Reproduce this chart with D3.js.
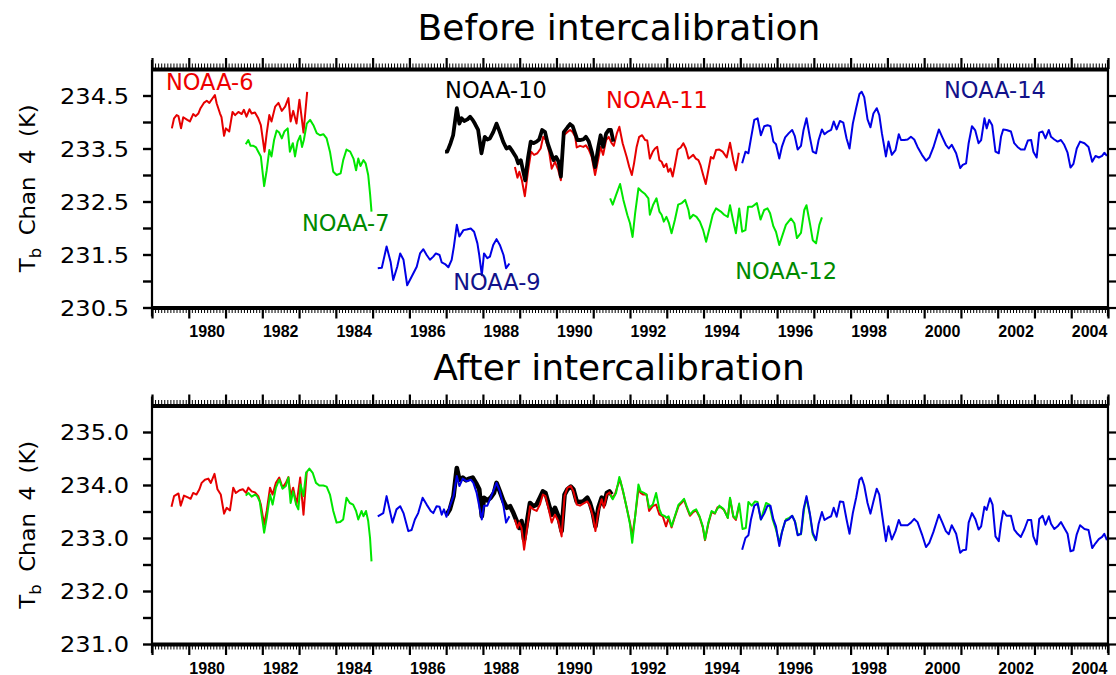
<!DOCTYPE html>
<html><head><meta charset="utf-8">
<script src="https://cdn.jsdelivr.net/npm/d3@7"></script>
<style>body{margin:0;background:#fff}svg{display:block}</style>
</head><body>
<svg id="chart" width="1116" height="675"></svg>
<script>
// ---------- data ----------
const panelTitles = ["Before intercalibration", "After intercalibration"];
const yAxisTitle = ["T", "b", " Chan 4 (K)"];
const yearTicks = d3.range(1979, 2006);
const yearLabels = [1980,1982,1984,1986,1988,1990,1992,1994,1996,1998,2000,2002,2004];
const topYTicks = [230.5,231.0,231.5,232.0,232.5,233.0,233.5,234.0,234.5];
const topYLabels = ["230.5","231.5","232.5","233.5","234.5"];
const botYTicks = [231.0,231.5,232.0,232.5,233.0,233.5,234.0,234.5,235.0];
const botYLabels = ["231.0","232.0","233.0","234.0","235.0"];
const satNames = ["NOAA-6","NOAA-7","NOAA-9","NOAA-10","NOAA-11","NOAA-12","NOAA-14"];
// label anchors in data units [year, K] (top panel)
const satLabelAnchors = [[1979.38,234.60],[1983.08,231.94],[1987.19,230.83],[1986.97,234.45],[1991.35,234.26],[1994.86,231.04],[2000.54,234.45]];

// Before intercalibration  [decimal year, Tb (K)]
const noaa6Before = [[1979.54,233.88],[1979.60,234.07],[1979.67,234.13],[1979.72,234.11],[1979.79,233.88],[1979.85,234.09],[1979.96,234.04],[1980.03,234.01],[1980.12,234.15],[1980.19,234.11],[1980.26,234.16],[1980.32,234.26],[1980.41,234.36],[1980.49,234.40],[1980.56,234.36],[1980.62,234.42],[1980.71,234.51],[1980.76,234.35],[1980.85,234.16],[1980.89,234.09],[1980.96,233.74],[1981.01,233.88],[1981.10,233.82],[1981.19,234.19],[1981.26,234.13],[1981.35,234.19],[1981.44,234.15],[1981.50,234.23],[1981.57,234.10],[1981.65,234.24],[1981.71,234.16],[1981.80,234.18],[1981.89,234.07],[1981.96,233.94],[1982.06,233.44],[1982.12,233.79],[1982.19,234.13],[1982.25,234.01],[1982.35,234.29],[1982.44,234.36],[1982.53,234.21],[1982.62,234.29],[1982.71,234.45],[1982.77,234.01],[1982.84,234.21],[1982.93,233.97],[1983.01,234.42],[1983.12,233.80],[1983.22,234.57]];
const noaa7Before = [[1981.55,233.58],[1981.62,233.66],[1981.68,233.55],[1981.76,233.55],[1981.83,233.52],[1981.89,233.44],[1981.96,233.35],[1982.05,232.79],[1982.12,233.09],[1982.19,233.47],[1982.25,233.35],[1982.32,233.66],[1982.39,233.84],[1982.46,233.80],[1982.53,233.69],[1982.60,233.82],[1982.69,233.88],[1982.75,233.44],[1982.83,233.60],[1982.89,233.35],[1982.96,233.63],[1983.03,233.74],[1983.08,233.53],[1983.13,233.66],[1983.21,233.97],[1983.30,234.04],[1983.39,233.94],[1983.48,233.79],[1983.57,233.75],[1983.66,233.77],[1983.75,233.69],[1983.84,233.44],[1983.93,233.06],[1984.02,233.00],[1984.13,233.03],[1984.20,233.28],[1984.29,233.48],[1984.39,233.44],[1984.48,233.31],[1984.55,233.09],[1984.61,233.31],[1984.67,233.17],[1984.75,233.28],[1984.81,233.22],[1984.88,233.00],[1984.93,232.65],[1984.97,232.31]];
const noaa9Before = [[1985.14,231.24],[1985.25,231.25],[1985.38,231.65],[1985.49,231.36],[1985.56,231.02],[1985.67,231.27],[1985.75,231.52],[1985.84,231.40],[1985.94,230.92],[1986.06,231.08],[1986.20,231.27],[1986.29,231.52],[1986.38,231.60],[1986.47,231.49],[1986.56,231.40],[1986.65,231.46],[1986.72,231.52],[1986.82,231.49],[1986.88,231.35],[1986.97,231.32],[1987.06,231.26],[1987.15,231.40],[1987.21,231.65],[1987.29,232.06],[1987.36,231.84],[1987.47,231.96],[1987.56,231.97],[1987.67,231.99],[1987.76,231.93],[1987.85,231.71],[1987.90,231.49],[1987.97,231.11],[1988.03,231.52],[1988.12,231.43],[1988.19,231.46],[1988.28,231.68],[1988.37,231.79],[1988.46,231.68],[1988.56,231.49],[1988.63,231.24],[1988.72,231.33]];
const noaa10Before = [[1986.97,233.44],[1987.03,233.44],[1987.12,233.60],[1987.19,233.75],[1987.29,234.26],[1987.36,233.97],[1987.42,234.07],[1987.49,234.02],[1987.58,234.05],[1987.65,234.10],[1987.72,234.04],[1987.78,233.97],[1987.87,233.85],[1987.96,233.41],[1988.05,233.72],[1988.12,233.67],[1988.19,233.69],[1988.28,233.81],[1988.37,233.97],[1988.46,233.81],[1988.55,233.63],[1988.64,233.50],[1988.72,233.53],[1988.81,233.44],[1988.90,233.34],[1988.96,233.22],[1989.03,233.28],[1989.08,233.12],[1989.15,232.90],[1989.23,233.34],[1989.30,233.63],[1989.37,233.60],[1989.46,233.63],[1989.53,233.67],[1989.61,233.85],[1989.69,233.81],[1989.76,233.60],[1989.84,233.44],[1989.92,233.28],[1989.99,233.34],[1990.06,233.25],[1990.12,232.97],[1990.20,233.81],[1990.30,233.90],[1990.37,233.96],[1990.44,233.92],[1990.51,233.78],[1990.57,233.66],[1990.64,233.66],[1990.73,233.67],[1990.80,233.72],[1990.88,233.63],[1990.96,233.44],[1991.05,233.15],[1991.14,233.53],[1991.20,233.75],[1991.27,233.53],[1991.35,233.78],[1991.42,233.85],[1991.48,233.85],[1991.55,233.63]];
const noaa11Before = [[1988.87,233.15],[1988.94,232.95],[1988.99,233.06],[1989.06,232.90],[1989.14,232.60],[1989.23,233.09],[1989.31,233.44],[1989.39,233.38],[1989.48,233.41],[1989.57,233.50],[1989.64,233.72],[1989.71,233.66],[1989.80,233.44],[1989.87,233.12],[1989.96,233.25],[1990.05,233.09],[1990.12,232.90],[1990.20,233.75],[1990.30,233.81],[1990.37,233.85],[1990.44,233.81],[1990.51,233.72],[1990.55,233.52],[1990.64,233.55],[1990.73,233.53],[1990.80,233.56],[1990.88,233.48],[1990.96,233.34],[1991.05,233.00],[1991.14,233.31],[1991.20,233.53],[1991.27,233.38],[1991.35,233.66],[1991.42,233.72],[1991.50,233.60],[1991.56,233.55],[1991.64,233.78],[1991.71,233.91],[1991.80,233.60],[1991.91,233.34],[1991.98,233.15],[1992.05,233.00],[1992.11,233.22],[1992.18,233.53],[1992.25,233.72],[1992.33,233.75],[1992.41,233.66],[1992.47,233.65],[1992.54,233.31],[1992.62,233.44],[1992.68,233.50],[1992.74,233.53],[1992.80,233.28],[1992.86,233.25],[1992.92,233.15],[1992.99,233.21],[1993.04,233.06],[1993.10,233.12],[1993.16,232.97],[1993.22,233.18],[1993.30,233.48],[1993.38,233.52],[1993.45,233.60],[1993.52,233.50],[1993.59,233.31],[1993.65,233.34],[1993.72,233.38],[1993.79,233.31],[1993.86,233.28],[1993.92,233.18],[1993.99,233.00],[1994.06,232.83],[1994.13,233.09],[1994.20,233.34],[1994.27,233.31],[1994.34,233.47],[1994.43,233.48],[1994.52,233.44],[1994.63,233.33],[1994.72,233.61],[1994.81,233.28],[1994.88,233.09],[1994.96,233.42]];
const noaa12Before = [[1991.46,232.56],[1991.53,232.44],[1991.62,232.62],[1991.73,232.83],[1991.82,232.53],[1991.93,232.24],[1992.00,232.09],[1992.07,231.83],[1992.14,232.28],[1992.23,232.75],[1992.32,232.69],[1992.41,232.64],[1992.50,232.56],[1992.54,232.25],[1992.63,232.44],[1992.72,232.56],[1992.80,232.31],[1992.86,232.25],[1992.92,232.12],[1992.99,232.21],[1993.06,232.09],[1993.13,231.90],[1993.22,232.15],[1993.31,232.44],[1993.41,232.47],[1993.50,232.53],[1993.59,232.34],[1993.63,232.18],[1993.72,232.25],[1993.81,232.21],[1993.90,232.12],[1993.99,231.96],[1994.07,231.74],[1994.16,231.99],[1994.25,232.25],[1994.34,232.37],[1994.47,232.31],[1994.56,232.25],[1994.66,232.21],[1994.72,232.43],[1994.81,232.12],[1994.88,231.90],[1994.97,232.37],[1995.05,231.93],[1995.14,231.96],[1995.21,232.40],[1995.32,232.40],[1995.45,232.47],[1995.55,232.16],[1995.65,232.34],[1995.74,232.37],[1995.81,232.28],[1995.90,232.03],[1995.97,231.93],[1996.06,231.68],[1996.15,231.87],[1996.24,232.06],[1996.38,232.18],[1996.47,232.09],[1996.54,231.81],[1996.65,231.91],[1996.74,232.34],[1996.80,232.43],[1996.90,232.06],[1996.97,231.77],[1997.06,231.71],[1997.15,232.06],[1997.22,232.20]];
const noaa14Before = [[1995.05,233.22],[1995.14,233.44],[1995.22,233.41],[1995.29,233.69],[1995.38,234.04],[1995.47,234.07],[1995.56,233.75],[1995.65,233.92],[1995.74,233.94],[1995.82,233.92],[1995.90,233.63],[1995.97,233.58],[1996.06,233.31],[1996.13,233.53],[1996.22,233.71],[1996.32,233.79],[1996.41,233.85],[1996.48,233.74],[1996.56,233.48],[1996.65,233.55],[1996.72,233.85],[1996.80,234.07],[1996.89,233.72],[1996.97,233.44],[1997.06,233.41],[1997.13,233.66],[1997.22,233.86],[1997.29,233.77],[1997.38,233.82],[1997.47,233.85],[1997.54,234.01],[1997.62,233.86],[1997.71,234.02],[1997.80,233.99],[1997.89,233.69],[1997.97,233.50],[1998.06,233.97],[1998.15,234.26],[1998.24,234.53],[1998.30,234.57],[1998.37,234.47],[1998.46,234.05],[1998.54,233.90],[1998.62,234.16],[1998.71,234.26],[1998.78,234.13],[1998.85,233.79],[1998.96,233.35],[1999.03,233.63],[1999.12,233.38],[1999.22,233.47],[1999.31,233.77],[1999.37,233.66],[1999.46,233.66],[1999.55,233.67],[1999.64,233.72],[1999.73,233.67],[1999.82,233.53],[1999.94,233.38],[2000.05,233.27],[2000.14,233.33],[2000.25,233.52],[2000.40,233.86],[2000.49,233.72],[2000.59,233.57],[2000.67,233.50],[2000.75,233.57],[2000.87,233.41],[2000.98,233.13],[2001.05,233.19],[2001.14,233.22],[2001.21,233.60],[2001.30,233.92],[2001.39,233.84],[2001.48,233.60],[2001.55,233.66],[2001.64,234.07],[2001.70,233.88],[2001.77,234.04],[2001.85,233.94],[2001.94,233.44],[2002.03,233.41],[2002.09,233.72],[2002.15,233.86],[2002.24,233.85],[2002.36,233.82],[2002.45,233.60],[2002.54,233.53],[2002.63,233.48],[2002.73,233.48],[2002.82,233.65],[2002.91,233.66],[2002.97,233.44],[2003.06,233.33],[2003.13,233.80],[2003.22,233.82],[2003.30,233.69],[2003.39,233.85],[2003.45,233.72],[2003.54,233.67],[2003.63,233.63],[2003.72,233.66],[2003.81,233.57],[2003.90,233.42],[2003.98,233.14],[2004.06,233.21],[2004.15,233.50],[2004.24,233.63],[2004.36,233.60],[2004.47,233.53],[2004.57,233.25],[2004.66,233.36],[2004.75,233.33],[2004.84,233.36],[2004.90,233.42],[2004.97,233.36]];

// After intercalibration
const noaa6After = [[1979.53,233.59],[1979.60,233.79],[1979.72,233.84],[1979.78,233.61],[1979.87,233.80],[1979.99,233.76],[1980.05,233.74],[1980.12,233.85],[1980.21,233.82],[1980.29,233.92],[1980.35,234.04],[1980.44,234.10],[1980.53,234.12],[1980.60,234.04],[1980.70,234.21],[1980.78,233.92],[1980.87,233.82],[1980.96,233.46],[1981.03,233.57],[1981.12,233.52],[1981.21,233.95],[1981.28,233.85],[1981.38,233.90],[1981.47,233.92],[1981.56,233.85],[1981.62,233.95],[1981.71,233.88],[1981.80,233.86],[1981.89,233.79],[1981.96,233.63],[1982.05,233.25],[1982.12,233.51],[1982.21,233.95],[1982.28,233.82],[1982.37,234.04],[1982.46,234.14],[1982.55,233.95],[1982.64,234.04],[1982.71,234.15],[1982.77,233.79],[1982.84,233.95],[1982.93,233.63],[1983.03,234.14],[1983.12,233.44],[1983.21,234.26]];
const noaa7After = [[1981.55,233.80],[1981.62,233.85],[1981.71,233.78],[1981.80,233.82],[1981.86,233.79],[1981.93,233.69],[1982.05,233.10],[1982.12,233.38],[1982.21,233.82],[1982.28,233.63],[1982.37,233.95],[1982.46,234.10],[1982.55,233.93],[1982.64,233.98],[1982.71,234.14],[1982.77,233.66],[1982.84,233.88],[1982.92,233.63],[1982.98,233.54],[1983.04,234.01],[1983.12,233.79],[1983.19,234.23],[1983.28,234.31],[1983.37,234.23],[1983.46,234.04],[1983.55,233.99],[1983.66,233.99],[1983.75,233.97],[1983.84,233.82],[1983.93,233.51],[1984.02,233.29],[1984.11,233.30],[1984.20,233.35],[1984.29,233.76],[1984.38,233.66],[1984.47,233.63],[1984.55,233.51],[1984.61,233.35],[1984.70,233.51],[1984.75,233.41],[1984.82,233.51],[1984.88,233.32],[1984.93,233.00],[1984.97,232.56]];
const noaa9After = [[1985.14,233.41],[1985.29,233.47],[1985.38,233.79],[1985.54,233.29],[1985.65,233.54],[1985.75,233.60],[1985.84,233.47],[1985.97,233.13],[1986.06,233.15],[1986.15,233.35],[1986.24,233.47],[1986.36,233.76],[1986.47,233.63],[1986.58,233.51],[1986.65,233.47],[1986.74,233.60],[1986.82,233.59],[1986.88,233.44],[1986.94,233.54],[1987.01,233.40],[1987.10,233.60],[1987.20,233.79],[1987.29,234.17],[1987.36,233.98],[1987.45,234.12],[1987.56,234.07],[1987.67,234.10],[1987.74,234.04],[1987.83,233.85],[1987.97,233.35],[1988.03,233.61],[1988.12,233.61],[1988.21,233.76],[1988.37,234.04],[1988.46,233.88],[1988.56,233.60],[1988.63,233.29],[1988.72,233.41]];
const noaa10After = [[1987.01,233.44],[1987.10,233.54],[1987.20,233.79],[1987.29,234.32],[1987.36,234.10],[1987.45,234.14],[1987.54,234.09],[1987.63,234.12],[1987.72,234.14],[1987.81,234.04],[1987.90,233.92],[1987.97,233.41],[1988.03,233.76],[1988.12,233.71],[1988.21,233.76],[1988.30,233.85],[1988.37,234.04],[1988.46,233.88],[1988.56,233.69],[1988.65,233.57],[1988.74,233.60],[1988.83,233.47],[1988.92,233.32],[1988.99,233.19],[1989.05,233.32],[1989.12,232.97],[1989.21,233.35],[1989.28,233.66],[1989.37,233.60],[1989.46,233.63],[1989.55,233.76],[1989.63,233.88],[1989.70,233.85],[1989.78,233.66],[1989.87,233.44],[1989.96,233.57],[1990.05,233.41],[1990.14,233.13],[1990.22,233.82],[1990.30,233.92],[1990.39,233.97],[1990.46,233.92],[1990.55,233.69],[1990.64,233.68],[1990.73,233.69],[1990.84,233.76],[1990.91,233.66],[1990.99,233.47],[1991.06,233.22],[1991.14,233.57],[1991.23,233.76],[1991.29,233.63],[1991.37,233.85],[1991.44,233.88],[1991.50,233.82]];
const noaa11After = [[1988.87,233.35],[1988.94,233.19],[1988.99,233.29],[1989.05,233.19],[1989.12,232.78],[1989.21,233.23],[1989.28,233.60],[1989.37,233.54],[1989.46,233.51],[1989.55,233.63],[1989.63,233.82],[1989.70,233.79],[1989.78,233.57],[1989.87,233.29],[1989.96,233.44],[1990.05,233.32],[1990.14,233.03],[1990.22,233.79],[1990.30,233.95],[1990.39,233.98],[1990.46,233.88],[1990.55,233.63],[1990.64,233.61],[1990.73,233.65],[1990.84,233.69],[1990.91,233.61],[1990.99,233.41],[1991.06,233.13],[1991.14,233.51],[1991.23,233.73],[1991.29,233.57],[1991.37,233.82],[1991.44,233.86],[1991.51,233.76],[1991.59,233.82],[1991.66,233.98],[1991.73,234.10],[1991.82,233.85],[1991.91,233.57],[1992.00,233.29],[1992.06,233.03],[1992.14,233.41],[1992.23,233.92],[1992.29,233.85],[1992.36,233.82],[1992.45,233.82],[1992.52,233.51],[1992.62,233.60],[1992.71,233.63],[1992.80,233.44],[1992.89,233.41],[1992.98,233.22],[1993.05,233.38],[1993.13,233.20],[1993.22,233.40],[1993.32,233.60],[1993.41,233.67],[1993.47,233.72],[1993.54,233.58],[1993.63,233.42],[1993.72,233.49],[1993.80,233.52],[1993.89,233.40],[1993.98,233.20],[1994.04,232.96],[1994.13,233.27],[1994.22,233.49],[1994.31,233.46],[1994.38,233.58],[1994.47,233.58],[1994.56,233.53],[1994.66,233.38],[1994.72,233.74],[1994.81,233.40],[1994.88,233.34],[1994.97,233.62]];
const noaa12After = [[1991.46,233.82],[1991.53,233.73],[1991.62,233.85],[1991.71,234.15],[1991.80,233.92],[1991.91,233.57],[1992.00,233.26],[1992.06,232.91],[1992.14,233.41],[1992.23,234.01],[1992.29,233.88],[1992.38,233.85],[1992.45,233.82],[1992.52,233.57],[1992.62,233.63],[1992.71,233.85],[1992.80,233.54],[1992.86,233.44],[1992.95,233.41],[1992.99,233.38],[1993.05,233.41],[1993.13,233.22],[1993.22,233.41],[1993.32,233.63],[1993.41,233.69],[1993.47,233.74],[1993.54,233.60],[1993.63,233.44],[1993.72,233.51],[1993.80,233.54],[1993.89,233.41],[1993.98,233.22],[1994.04,232.97],[1994.13,233.29],[1994.22,233.51],[1994.31,233.47],[1994.34,233.51],[1994.43,233.61],[1994.54,233.55],[1994.66,233.38],[1994.72,233.76],[1994.81,233.41],[1994.88,233.36],[1994.97,233.65],[1995.06,233.17],[1995.15,233.19],[1995.22,233.68],[1995.31,233.61],[1995.40,233.69],[1995.47,233.68],[1995.56,233.35],[1995.70,233.66],[1995.79,233.63],[1995.88,233.35],[1995.97,233.16],[1996.06,232.91],[1996.15,233.16],[1996.24,233.35],[1996.33,233.38],[1996.41,233.42],[1996.50,233.29],[1996.56,233.07],[1996.65,233.07],[1996.74,233.57],[1996.80,233.76],[1996.90,233.41],[1996.97,233.07],[1997.06,232.94]];
const noaa14After = [[1995.05,232.78],[1995.14,233.00],[1995.22,233.05],[1995.29,233.35],[1995.38,233.61],[1995.47,233.65],[1995.56,233.35],[1995.65,233.46],[1995.74,233.61],[1995.82,233.61],[1995.90,233.35],[1995.97,233.22],[1996.06,232.85],[1996.13,233.10],[1996.22,233.32],[1996.32,233.35],[1996.41,233.42],[1996.48,233.32],[1996.56,233.05],[1996.65,233.08],[1996.72,233.54],[1996.80,233.79],[1996.89,233.47],[1996.97,233.10],[1997.06,232.96],[1997.13,233.27],[1997.22,233.49],[1997.29,233.34],[1997.38,233.38],[1997.47,233.41],[1997.54,233.57],[1997.62,233.40],[1997.71,233.69],[1997.80,233.68],[1997.89,233.35],[1997.97,233.08],[1998.06,233.47],[1998.15,233.76],[1998.24,234.10],[1998.30,234.14],[1998.37,233.99],[1998.46,233.66],[1998.54,233.46],[1998.62,233.69],[1998.71,233.93],[1998.78,233.82],[1998.85,233.47],[1998.96,232.94],[1999.03,233.22],[1999.12,232.97],[1999.22,233.13],[1999.31,233.34],[1999.37,233.24],[1999.46,233.24],[1999.55,233.24],[1999.64,233.29],[1999.73,233.36],[1999.82,233.30],[1999.94,233.07],[2000.05,232.83],[2000.14,232.91],[2000.25,233.11],[2000.40,233.44],[2000.49,233.30],[2000.59,233.13],[2000.67,233.07],[2000.75,233.24],[2000.87,233.08],[2000.98,232.72],[2001.05,232.77],[2001.14,232.78],[2001.21,233.29],[2001.30,233.47],[2001.39,233.36],[2001.48,233.16],[2001.55,233.22],[2001.64,233.59],[2001.70,233.53],[2001.79,233.75],[2001.86,233.63],[2001.94,233.03],[2002.03,232.94],[2002.09,233.27],[2002.15,233.51],[2002.24,233.42],[2002.36,233.42],[2002.45,233.16],[2002.54,233.08],[2002.63,233.02],[2002.73,233.17],[2002.82,233.34],[2002.91,233.34],[2002.97,233.03],[2003.06,232.88],[2003.13,233.36],[2003.22,233.42],[2003.30,233.25],[2003.39,233.41],[2003.45,233.27],[2003.54,233.17],[2003.63,233.22],[2003.72,233.30],[2003.81,233.19],[2003.90,233.08],[2003.98,232.75],[2004.06,232.77],[2004.15,233.07],[2004.24,233.24],[2004.36,233.17],[2004.47,233.15],[2004.57,232.81],[2004.66,232.90],[2004.75,232.98],[2004.84,233.02],[2004.90,233.08],[2004.97,232.96]];

// ---------- styles ----------
const C = {red:"#e60000", green:"#00e600", blue:"#0000e6", black:"#000000",
           labRed:"#ee0000", labGreen:"#008a00", labBlue:"#12128a", labBlack:"#000000"};

const svg = d3.select("#chart");
const x = d3.scaleLinear().domain([1979, 2005]).range([152, 1108]);
const monthTicks = d3.range(0, 26*12 + 1).map(i => 1979 + i/12);

const panels = [
  { y: d3.scaleLinear().domain([230.5, 235.0]).range([307.5, 69]),
    title: panelTitles[0], titleY: 40, ticks: topYTicks, labels: topYLabels,
    series: [
      {d: noaa6Before, c: C.red, w: 2},
      {d: noaa7Before, c: C.green, w: 2},
      {d: noaa9Before, c: C.blue, w: 2},
      {d: noaa11Before, c: C.red, w: 2},
      {d: noaa10Before, c: C.black, w: 3.8},
      {d: noaa12Before, c: C.green, w: 2},
      {d: noaa14Before, c: C.blue, w: 2}
    ]},
  { y: d3.scaleLinear().domain([231.0, 235.5]).range([644, 405.5]),
    title: panelTitles[1], titleY: 380, ticks: botYTicks, labels: botYLabels,
    series: [
      {d: noaa10After, c: C.black, w: 4.6},
      {d: noaa6After, c: C.red, w: 2},
      {d: noaa7After, c: C.green, w: 2},
      {d: noaa9After, c: C.blue, w: 2},
      {d: noaa11After, c: C.red, w: 2},
      {d: noaa12After, c: C.green, w: 2},
      {d: noaa14After, c: C.blue, w: 2}
    ]}
];

function styleAxis(g, w) {
  g.selectAll("line").attr("stroke", "#000").attr("stroke-width", w);
}

panels.forEach(p => {
  const y = p.y;
  const [yb, yt] = y.range();
  const g = svg.append("g");

  // title
  g.append("text").attr("x", 619).attr("y", p.titleY)
    .attr("text-anchor", "middle").attr("font-family", "DejaVu Sans")
    .attr("font-size", 36).attr("fill", "#000").text(p.title);

  // series
  const line = d3.line().x(d => x(d[0])).y(d => y(d[1]));
  p.series.forEach(s => {
    g.append("path").datum(s.d).attr("d", line).attr("fill", "none")
      .attr("stroke", s.c).attr("stroke-width", s.w)
      .attr("stroke-linejoin", "round").attr("stroke-linecap", "butt");
  });

  // left / right vertical frame lines (extended like the original)
  [x.range()[0], x.range()[1]].forEach(xx => {
    g.append("line").attr("x1", xx).attr("x2", xx).attr("y1", yt - 9).attr("y2", yb + 9)
      .attr("stroke", "#000").attr("stroke-width", 2.2);
  });

  // left axis
  const left = g.append("g").attr("transform", `translate(${x.range()[0]},0)`)
    .call(d3.axisLeft(y).tickValues(p.ticks).tickSize(9).tickSizeOuter(0).tickPadding(14)
      .tickFormat(v => { const s = v.toFixed(1); return p.labels.includes(s) ? s : ""; }));
  left.select(".domain").remove();
  styleAxis(left, 2.4);
  left.selectAll("text").attr("font-family", "DejaVu Sans").attr("font-size", 22)
    .attr("fill", "#000").attr("dy", "0.36em")
    .each(function() { if (this.textContent) d3.select(this).attr("textLength", 69).attr("lengthAdjust", "spacingAndGlyphs"); });

  // right axis
  const right = g.append("g").attr("transform", `translate(${x.range()[1]},0)`)
    .call(d3.axisRight(y).tickValues(p.ticks).tickSize(8).tickSizeOuter(0).tickFormat(""));
  right.select(".domain").remove();
  styleAxis(right, 2.2);

  // bottom & top axes: minor (monthly) + major (yearly) ticks + thick band
  const mkH = (axisFn, yy) => {
    const minor = g.append("g").attr("transform", `translate(0,${yy})`)
      .call(axisFn(x).tickValues(monthTicks).tickSize(5.5).tickSizeOuter(0).tickFormat(""));
    minor.select(".domain").remove();
    styleAxis(minor, 1);
    const major = g.append("g").attr("transform", `translate(0,${yy})`)
      .call(axisFn(x).tickValues(yearTicks).tickSize(11).tickSizeOuter(0).tickFormat(""));
    major.select(".domain").attr("stroke", "#000").attr("stroke-width", 4.2);
    styleAxis(major, 2.2);
  };
  mkH(d3.axisBottom, yb);
  mkH(d3.axisTop, yt);

  // year labels (centred within each labelled year)
  g.selectAll("text.yr").data(yearLabels).join("text").attr("class", "yr")
    .attr("x", d => x(d + 0.5)).attr("y", yb + 29.5)
    .attr("text-anchor", "middle").attr("font-family", "Liberation Sans, Arial, sans-serif")
    .attr("font-weight", "bold").attr("font-size", 16).attr("fill", "#000").text(d => d);

  // y axis title
  const cy = (yt + yb) / 2;
  const t = g.append("text").attr("transform", `translate(35,${cy}) rotate(-90)`)
    .attr("text-anchor", "middle").attr("font-family", "DejaVu Sans")
    .attr("font-size", 21).attr("fill", "#000")
    .attr("textLength", 168).attr("lengthAdjust", "spacingAndGlyphs");
  t.append("tspan").text(yAxisTitle[0]);
  t.append("tspan").attr("font-size", 15).attr("dy", 6).text(yAxisTitle[1]);
  t.append("tspan").attr("dy", -6).attr("word-spacing", 5).text(yAxisTitle[2]);
});

// satellite labels on the top panel
const labColors = [C.labRed, C.labGreen, C.labBlue, C.labBlack, C.labRed, C.labGreen, C.labBlue];
const yTop = panels[0].y;
svg.append("g").selectAll("text").data(satNames).join("text")
  .attr("x", (d, i) => x(satLabelAnchors[i][0]))
  .attr("y", (d, i) => yTop(satLabelAnchors[i][1]))
  .attr("font-family", "DejaVu Sans").attr("font-size", 22.5)
  .attr("fill", (d, i) => labColors[i]).text(d => d);
</script>
</body></html>
